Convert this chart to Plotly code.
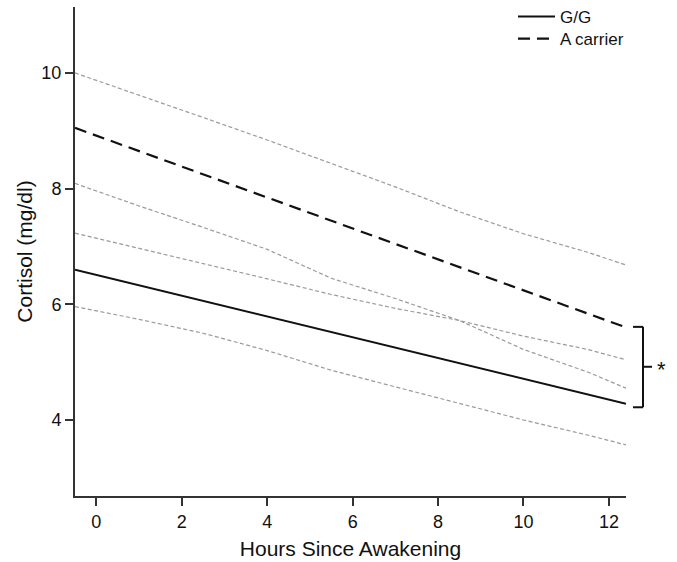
import plotly.graph_objects as go

# ---- data ----
hours = [-0.5, 1, 2.5, 4, 5.5, 7, 8.5, 10, 11.5, 12.4]
gg_mean = [6.60, 6.33, 6.06, 5.79, 5.52, 5.25, 4.98, 4.71, 4.44, 4.28]
a_mean = [9.05, 8.65, 8.25, 7.85, 7.45, 7.05, 6.64, 6.24, 5.84, 5.60]
a_upper = [10.00, 9.62, 9.23, 8.84, 8.43, 8.03, 7.60, 7.22, 6.90, 6.68]
a_lower = [8.09, 7.70, 7.33, 6.95, 6.45, 6.10, 5.72, 5.22, 4.83, 4.55]
gg_upper = [7.23, 6.97, 6.71, 6.44, 6.17, 5.93, 5.72, 5.45, 5.22, 5.04]
gg_lower = [5.96, 5.74, 5.50, 5.20, 4.86, 4.57, 4.28, 4.00, 3.74, 3.57]
x_ticks = [0, 2, 4, 6, 8, 10, 12]
y_ticks = [4, 6, 8, 10]
x_range = [-0.5, 12.4]
y_range = [2.686, 11.14]
bracket_top, bracket_bottom, bracket_mid = 5.61, 4.22, 4.92

FONT = "Arial, Liberation Sans, sans-serif"
W, H = 677, 562
ML, MR, MT, MB = 75, 51, 7, 66
PW, PH = W - ML - MR, H - MT - MB

def ypaper(v):
    return (v - y_range[0]) / (y_range[1] - y_range[0])

def xpaper_px(px):
    return (px - ML) / PW

def ypaper_px(py):
    return (H - MB - py) / PH

fig = go.Figure()
gray = dict(color="#9a9a9a", width=1.2, dash="4px,2.5px")
for ys in (a_upper, a_lower, gg_upper, gg_lower):
    fig.add_trace(go.Scatter(x=hours, y=ys, mode="lines", line=gray,
                             showlegend=False, hoverinfo="skip"))
fig.add_trace(go.Scatter(x=hours, y=gg_mean, mode="lines", name="G/G", legend="legend",
                         line=dict(color="#111111", width=2)))
fig.add_trace(go.Scatter(x=hours, y=a_mean, mode="lines", name="A carrier", legend="legend2",
                         line=dict(color="#111111", width=2.2, dash="12px,7px")))

# significance bracket at the right end
xb = xpaper_px(643)
xl = xpaper_px(633)
xr = xpaper_px(652)
yt, yb, ym = ypaper(bracket_top), ypaper(bracket_bottom), ypaper(bracket_mid)
lk = dict(color="#111111", width=2)
for (x0, y0, x1, y1) in [(xb, yt, xb, yb), (xl, yt, xb, yt), (xl, yb, xb, yb), (xb, ym, xr, ym)]:
    fig.add_shape(type="line", xref="paper", yref="paper", x0=x0, y0=y0, x1=x1, y1=y1, line=lk)
fig.add_annotation(text="*", xref="paper", yref="paper", x=xpaper_px(661), y=ym,
                   showarrow=False, font=dict(family=FONT, size=22, color="#111111"),
                   xanchor="center", yanchor="middle", yshift=-3)

axis_common = dict(showline=True, linecolor="#333333", linewidth=2, ticks="outside",
                   ticklen=8, tickwidth=1.5, tickcolor="#333333", showgrid=False,
                   zeroline=False, automargin=False,
                   tickfont=dict(family=FONT, size=18, color="#111111"))
leg_common = dict(xanchor="left", yanchor="middle", font=dict(family=FONT, size=17, color="#111111"),
                  bgcolor="rgba(0,0,0,0)", itemwidth=37)
fig.update_layout(
    width=W, height=H, margin=dict(l=ML, r=MR, t=MT, b=MB, autoexpand=False),
    paper_bgcolor="white", plot_bgcolor="white",
    xaxis=dict(range=x_range, tickvals=x_ticks, **axis_common,
               title=dict(text="Hours Since Awakening", font=dict(family=FONT, size=21, color="#111111"), standoff=11)),
    yaxis=dict(range=y_range, tickvals=y_ticks, **axis_common,
               title=dict(text="Cortisol (mg/dl)", font=dict(family=FONT, size=21, color="#111111"), standoff=3)),
    legend=dict(x=xpaper_px(513), y=ypaper_px(17), **leg_common),
    legend2=dict(x=xpaper_px(513), y=ypaper_px(39), **leg_common),
    showlegend=True,
)
fig.write_html("out.html", config={"displayModeBar": False},
               post_script="document.body.style.margin='0';")
